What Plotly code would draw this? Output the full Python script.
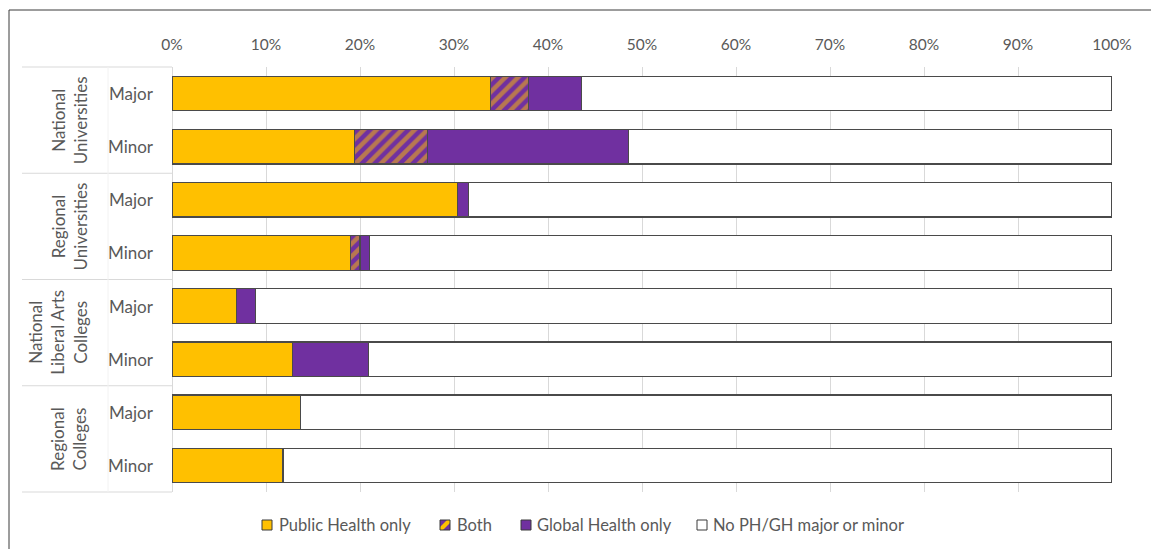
import plotly.graph_objects as go

groups = ["National<br>Universities", "Regional<br>Universities",
          "National<br>Liberal Arts<br>Colleges", "Regional<br>Colleges"]
levels = ["Major", "Minor", "Major", "Minor", "Major", "Minor", "Major", "Minor"]
ph_only = [33.9, 19.4, 30.4, 19.0, 6.9, 12.8, 13.7, 11.8]
both = [4.0, 7.8, 0.0, 1.0, 0.0, 0.0, 0.0, 0.0]
gh_only = [5.7, 21.4, 1.1, 1.0, 2.0, 8.1, 0.0, 0.0]
none = [round(100 - a - b - c, 1) for a, b, c in zip(ph_only, both, gh_only)]
tick_vals = list(range(0, 101, 10))
tick_text = [f"{v}%" for v in tick_vals]
legend_names = ["Public Health only", "Both", "Global Health only", "No PH/GH major or minor"]

GOLD = "#FFC000"
PURPLE = "#7030A0"
EDGE = "#4a4a4a"
FONT = "Lato"
GRAY = "#595959"

rows = list(range(len(levels)))

fig = go.Figure()
line = dict(color=EDGE, width=1.2)
fig.add_trace(go.Bar(y=rows, x=ph_only, orientation="h", name=legend_names[0],
                     marker=dict(color=GOLD, line=line), width=0.65))
fig.add_trace(go.Bar(y=rows, x=both, orientation="h", name=legend_names[1],
                     marker=dict(color=PURPLE, line=line,
                                 pattern=dict(shape="/", fgcolor=GOLD, bgcolor=PURPLE,
                                              size=9, solidity=0.5)), width=0.65))
fig.add_trace(go.Bar(y=rows, x=gh_only, orientation="h", name=legend_names[2],
                     marker=dict(color=PURPLE, line=line), width=0.65))
fig.add_trace(go.Bar(y=rows, x=none, orientation="h", name=legend_names[3],
                     marker=dict(color="white", line=line), width=0.65))

L, R, T, B = 172, 39, 67, 57
W, H = 1151, 549
pw, ph = W - L - R, H - T - B


def px(x):
    return (x - L) / pw


def py(y):
    return (H - B - y) / ph


shapes = []
# outer border
shapes.append(dict(type="rect", xref="paper", yref="paper",
                   x0=px(9), x1=px(1170), y0=py(560), y1=py(10),
                   line=dict(color="#3a3a3a", width=1), fillcolor="rgba(0,0,0,0)", layer="below"))
# table separators
for yb in [1.0, 0.75, 0.5, 0.25, 0.0]:
    shapes.append(dict(type="line", xref="paper", yref="paper",
                       x0=px(22), x1=0, y0=yb, y1=yb,
                       line=dict(color="#d9d9d9", width=1)))
shapes.append(dict(type="line", xref="paper", yref="paper",
                   x0=px(108), x1=px(108), y0=0, y1=1,
                   line=dict(color="#f2f2f2", width=1)))

annotations = []
for i, lv in enumerate(levels):
    annotations.append(dict(x=px(156), y=i, xref="paper", yref="y", text=lv,
                            showarrow=False, xanchor="right", yanchor="middle",
                            font=dict(family=FONT, size=17, color=GRAY)))
group_x = [69, 69, 58, 69]
for g, (name, gx) in enumerate(zip(groups, group_x)):
    annotations.append(dict(x=px(gx), y=2 * g + 0.5, xref="paper", yref="y", text=name,
                            showarrow=False, textangle=-90, xanchor="center", yanchor="middle",
                            font=dict(family=FONT, size=17, color=GRAY)))

# custom legend (square swatch + text)
sq_x = [262, 440, 521, 697]
txt_x = [277, 455, 535, 711]
leg_y = 525
sq = 10
fills = [GOLD, PURPLE, PURPLE, "white"]
for name, sx, tx, fc in zip(legend_names, sq_x, txt_x, fills):
    shapes.append(dict(type="rect", xref="paper", yref="paper",
                       x0=px(sx), x1=px(sx + sq), y0=py(leg_y + sq / 2), y1=py(leg_y - sq / 2),
                       fillcolor=fc, line=dict(width=0)))
    if name == "Both":
        x0, x1 = px(sx), px(sx + sq)
        yb, yt = py(leg_y + sq / 2), py(leg_y - sq / 2)
        dx = (x1 - x0) * 0.3
        dy = (yt - yb) * 0.3
        path = (f"M {x0} {yb + dy} L {x1 - dx} {yt} L {x1} {yt} L {x1} {yt - dy} "
                f"L {x0 + dx} {yb} L {x0} {yb} Z")
        shapes.append(dict(type="path", xref="paper", yref="paper", path=path,
                           fillcolor=GOLD, line=dict(width=0)))
    shapes.append(dict(type="rect", xref="paper", yref="paper",
                       x0=px(sx), x1=px(sx + sq), y0=py(leg_y + sq / 2), y1=py(leg_y - sq / 2),
                       fillcolor="rgba(0,0,0,0)", line=dict(color="#3a3a3a", width=1)))
    annotations.append(dict(x=px(tx), y=py(leg_y), xref="paper", yref="paper", text=name,
                            showarrow=False, xanchor="left", yanchor="middle",
                            font=dict(family=FONT, size=16.5, color=GRAY)))

fig.update_layout(
    barmode="stack",
    width=W, height=H,
    margin=dict(l=L, r=R, t=T, b=B),
    paper_bgcolor="white", plot_bgcolor="white",
    font=dict(family=FONT, size=15, color=GRAY),
    shapes=shapes,
    annotations=annotations,
    showlegend=False,
    xaxis=dict(side="top", range=[0, 100], tickvals=tick_vals, ticktext=tick_text,
               showgrid=True, gridcolor="#d9d9d9", gridwidth=1,
               zeroline=True, zerolinecolor="#d9d9d9", zerolinewidth=1,
               showline=False, ticks="", ticklabelstandoff=13,
               tickfont=dict(family=FONT, size=15.5, color=GRAY),
               fixedrange=True),
    yaxis=dict(range=[7.5, -0.5], showticklabels=False, showgrid=False, zeroline=False,
               showline=False, ticks="", fixedrange=True),
)

fig.write_html("out.html", config={"displayModeBar": False},
               post_script="document.body.style.margin='0';document.body.style.overflow='hidden';")
